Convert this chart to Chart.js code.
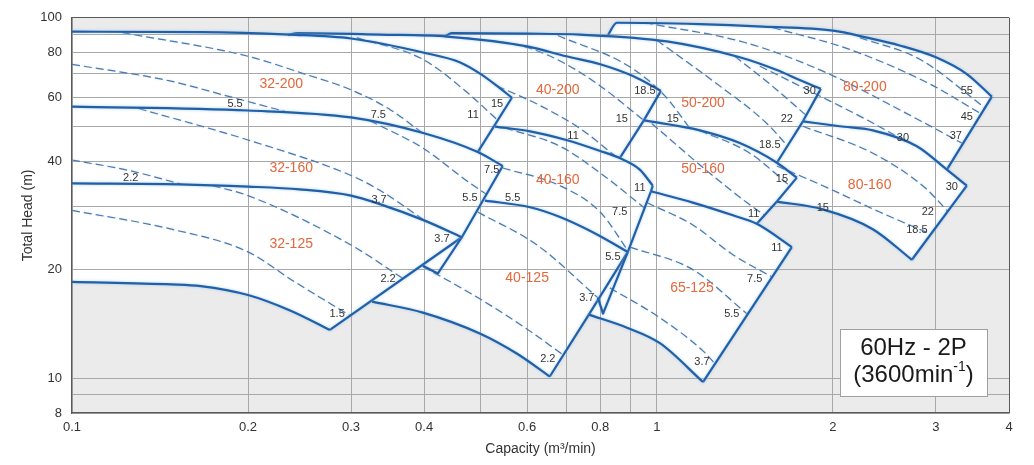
<!DOCTYPE html>
<html><head><meta charset="utf-8">
<script src="https://cdn.jsdelivr.net/npm/chart.js@4.4.1/dist/chart.umd.min.js"></script>
<style>html,body{margin:0;padding:0;background:#fff;}#c{display:block;}</style>
</head><body>
<canvas id="c" width="1034" height="465"></canvas>
<script>
// ---- axis ticks ----
const X_GRID = [0.1,0.2,0.3,0.4,0.5,0.6,0.7,0.8,0.9,1,2,3,4];
const X_LABELS = [0.1,0.2,0.3,0.4,0.6,0.8,1,2,3,4];
const Y_GRID = [8,9,10,20,30,40,50,60,70,80,90,100];
const Y_LABELS = [8,10,20,40,60,80,100];

// ---- solid curves [capacity m3/min, head m] ----
const T32_200 = [[0.1,91.5],[0.166,91.3],[0.236,89.8],[0.3,87.6],[0.4,80],[0.46,75.3],[0.5,69.8],[0.533,64.7],[0.565,60]];
const R32_200 = [[0.565,60],[0.494,42.4]];
const T32_160 = [[0.1,56.7],[0.2,55.3],[0.3,52.9],[0.4,47.8],[0.494,42.4],[0.545,38.8]];
const R32_160 = [[0.545,38.8],[0.464,24.6],[0.422,19.5],[0.398,20.5]];
const T32_125 = [[0.1,34.7],[0.153,34.5],[0.2,34.0],[0.245,33.4],[0.3,32.1],[0.336,30.4],[0.4,27.4],[0.464,24.6]];
const R32_125 = [[0.464,24.6],[0.276,13.6]];
const B32_125 = [[0.1,18.5],[0.148,18.2],[0.166,18.0],[0.2,17.0],[0.236,15.4],[0.276,13.6]];

const T40_200 = [[0.234,89.6],[0.243,90.7],[0.336,89.8],[0.438,88.7],[0.6,83.3],[0.7,78.2],[0.8,74.3],[0.91,68.9],[1.016,62.7]];
const R40_200 = [[1.016,62.7],[0.95,51.9],[0.864,40.8]];
const T40_160 = [[0.529,49.9],[0.607,48.4],[0.7,45.8],[0.8,42.7],[0.864,40.8],[0.935,37.9],[0.984,34.2]];
const R40_160 = [[0.984,34.2],[0.977,33.0],[0.892,22.4],[0.809,15.1],[0.793,16.7]];
const T40_125 = [[0.508,31.1],[0.607,29.8],[0.683,28.0],[0.777,25.4],[0.892,22.4]];
const R40_125 = [[0.892,22.4],[0.765,15.0],[0.656,10.1]];
const B40_125 = [[0.326,16.3],[0.398,15.2],[0.498,13.3],[0.576,11.7],[0.656,10.1]];

const T50_200 = [[0.434,88.7],[0.446,90.7],[0.6,90.4],[0.739,89.8],[1.04,86.0],[1.386,77.7],[1.604,71.6],[1.755,67.2],[1.907,63.5]];
const R50_200 = [[1.907,63.5],[1.777,51.6],[1.604,39.6]];
const T50_160 = [[0.95,51.9],[1.184,48.7],[1.386,44.9],[1.604,39.6],[1.735,36.0]];
const R50_160 = [[1.735,36.0],[1.604,30.9],[1.482,26.8]];
const T65_125 = [[0.977,33.0],[1.152,30.7],[1.349,28.3],[1.482,26.8],[1.701,23.1]];
const R65_125 = [[1.701,23.1],[1.199,9.75]];
const B65_125 = [[0.765,15.0],[0.889,13.8],[1.012,12.5],[1.199,9.75]];

const T80_200 = [[0.825,89.6],[0.854,96.9],[1.184,96.0],[1.518,94.5],[2.0,92.1],[2.286,88.1],[2.6,83.8],[3.0,77.7],[3.388,69.8],[3.739,60.4]];
const R80_200 = [[3.739,60.4],[3.132,37.9]];
const T80_160 = [[1.777,51.6],[2.055,50.0],[2.34,48.7],[2.783,44.0],[3.132,37.9],[3.388,34.2]];
const R80_160 = [[3.388,34.2],[2.729,21.3]];
const B80_160 = [[1.604,30.9],[1.922,29.4],[2.34,25.9],[2.729,21.3]];

// ---- motor power lines (dashed) ----
const DASH_32_200 = [
  [[0.1,74.3],[0.147,66.8],[0.186,60.4],[0.231,55.0]],
  [[0.122,91.0],[0.2,78.2],[0.25,69.8],[0.3,63.1],[0.35,55.6],[0.398,47.8]],
  [[0.307,88.1],[0.398,76.7],[0.466,63.5],[0.535,51.9]]
];
const DASH_32_160 = [
  [[0.1,40.3],[0.126,37.6],[0.154,34.5]],
  [[0.13,56.0],[0.2,45.8],[0.3,36.5],[0.336,33.2],[0.398,27.6]],
  [[0.323,51.8],[0.398,43.5],[0.473,35.3],[0.512,32.3]]
];
const DASH_32_125 = [
  [[0.1,29.2],[0.148,25.9],[0.2,22.4],[0.239,18.6],[0.299,14.9]],
  [[0.174,34.2],[0.2,32.1],[0.3,23.4],[0.368,18.9]]
];
const DASH_40_200 = [
  [[0.47,88.1],[0.6,82.8],[0.7,74.3],[0.8,64.7],[0.95,51.9]],
  [[0.533,64.7],[0.631,57.1],[0.739,49.3],[0.848,41.4]]
];
const DASH_40_160 = [
  [[0.55,49.5],[0.683,44.0],[0.8,37.1],[0.954,29.6]],
  [[0.545,38.3],[0.683,34.2],[0.8,28.9],[0.892,22.6]]
];
const DASH_40_125 = [
  [[0.494,28.9],[0.624,23.4],[0.793,16.7]],
  [[0.398,20.4],[0.498,16.6],[0.607,13.5],[0.691,11.6]]
];
const DASH_50_200 = [
  [[0.677,89.3],[0.9,73.0],[1.032,60.7],[1.139,49.3]],
  [[1.0,86.6],[1.247,66.8],[1.542,50.9],[1.668,44.3]],
  [[1.359,78.2],[1.56,65.5],[1.8,53.6]]
];
const DASH_50_160 = [
  [[0.98,50.9],[1.218,37.6],[1.425,30.7],[1.53,28.3]],
  [[1.184,48.7],[1.442,42.1],[1.687,34.2]]
];
const DASH_65_125 = [
  [[0.961,30.7],[1.152,26.6],[1.349,22.0],[1.572,19.1]],
  [[0.9,23.1],[1.152,20.0],[1.425,15.1]],
  [[0.831,17.8],[1.012,14.7],[1.199,11.9],[1.261,10.9]]
];
const DASH_80_200 = [
  [[1.579,93.9],[2.136,81.7],[2.929,65.5],[3.58,54.2]],
  [[2.223,88.1],[2.816,76.7],[3.637,56.3]],
  [[0.954,96.9],[1.414,85.4],[1.922,71.1],[2.676,54.2],[3.321,44.9]],
  [[1.5,73.4],[1.899,60.7],[2.311,51.6],[2.655,45.5]]
];
const DASH_80_160 = [
  [[1.777,50.0],[2.34,42.1],[2.871,33.8],[3.145,29.0]],
  [[1.604,38.8],[1.922,34.2],[2.404,28.9],[2.94,25.1]]
];

// ---- text labels [text, capacity, head] ----
const MODELS = [
  ['32-200',0.228,65.5],['32-160',0.237,38.3],['32-125',0.237,23.6],
  ['40-200',0.677,63.1],['40-160',0.677,35.5],['40-125',0.6,18.9],
  ['50-200',1.199,57.8],['50-160',1.199,38.1],['65-125',1.148,17.8],
  ['80-200',2.268,64.3],['80-160',2.311,34.4]
];
const KW = [
  ['5.5',0.19,57.8],['7.5',0.334,53.9],['15',0.533,57.8],['11',0.485,53.6],
  ['2.2',0.126,36.0],['3.7',0.335,31.3],['7.5',0.522,37.9],['5.5',0.479,31.7],['5.5',0.567,31.7],
  ['3.7',0.429,24.3],['2.2',0.347,18.9],['1.5',0.284,15.1],
  ['18.5',0.954,62.7],['15',0.871,52.5],['11',0.719,46.9],
  ['11',0.935,33.8],['7.5',0.864,28.9],['5.5',0.841,21.7],['3.7',0.759,16.7],['2.2',0.651,11.3],
  ['15',1.065,52.5],['30',1.825,62.7],['22',1.668,52.5],['18.5',1.56,44.3],
  ['15',1.636,35.8],['11',1.464,28.5],
  ['11',1.604,23.0],['7.5',1.47,18.9],['5.5',1.343,15.1],['3.7',1.194,11.1],
  ['55',3.388,62.7],['45',3.388,53.2],['37',3.244,46.9],['30',2.634,46.3],
  ['30',3.194,34.0],['22',2.906,28.9],['18.5',2.783,25.8],['15',1.922,29.6]
];

// ---- build datasets ----
const pts = a => a.map(([x, y]) => ({x, y}));
const last = a => a[a.length - 1];
const REGIONS = [
  {top:T32_200, right:R32_200, bottom:T32_160},
  {top:T32_160, right:R32_160, bottom:T32_125},
  {top:T32_125, right:R32_125, bottom:B32_125},
  {top:T40_200, right:R40_200, bottom:T40_160},
  {top:T40_160, right:R40_160, bottom:T40_125, left:[last(T32_160), last(R32_200)]},
  {top:T40_125, right:R40_125, bottom:B40_125},
  {top:T50_200, right:R50_200, bottom:T50_160},
  {top:T50_160, right:R50_160, bottom:T65_125, left:[last(T40_160), last(R40_200)]},
  {top:T65_125, right:R65_125, bottom:B65_125},
  {top:T80_200, right:R80_200, bottom:T80_160},
  {top:T80_160, right:R80_160, bottom:B80_160, left:[last(T50_160), last(R50_200)]}
];
const SOLID_CURVES = [T32_200,T32_160,T32_125,B32_125,T40_200,T40_160,T40_125,B40_125,
  T50_200,T50_160,T65_125,B65_125,T80_200,T80_160,B80_160];
const BOUNDARIES = [R32_200,R32_160,R32_125,R40_200,R40_160,R40_125,R50_200,R50_160,R65_125,R80_200,R80_160];
const DASHES = [].concat(DASH_32_200,DASH_32_160,DASH_32_125,DASH_40_200,DASH_40_160,DASH_40_125,
  DASH_50_200,DASH_50_160,DASH_65_125,DASH_80_200,DASH_80_160);

const LINE_BLUE = '#215fa6';
const DASH_BLUE = '#4a78aa';
const datasets = [];
REGIONS.forEach(r => datasets.push({
  kind:'fill', data: pts([...r.top, ...r.right, ...r.bottom.slice().reverse(), ...(r.left || [])]),
  showLine:true, fill:'shape', backgroundColor:'#ffffff', borderColor:'rgba(0,0,0,0)', borderWidth:0,
  pointRadius:0, tension:0, order:3
}));
DASHES.forEach(d => datasets.push({
  kind:'dash', data: pts(d), showLine:true, fill:false, borderColor:DASH_BLUE, borderWidth:1.2,
  borderDash:[8,4], pointRadius:0, cubicInterpolationMode:'monotone', order:2
}));
SOLID_CURVES.forEach(d => datasets.push({
  kind:'line', data: pts(d), showLine:true, fill:false, borderColor:LINE_BLUE, borderWidth:2.2,
  pointRadius:0, cubicInterpolationMode:'monotone', borderJoinStyle:'round', order:1
}));
BOUNDARIES.forEach(d => datasets.push({
  kind:'line', data: pts(d), showLine:true, fill:false, borderColor:LINE_BLUE, borderWidth:2.2,
  pointRadius:0, tension:0, borderJoinStyle:'round', order:1
}));
const NFILL = REGIONS.length;

// ---- plugins ----
let fillCount = 0;
const layering = {
  id:'layering',
  beforeDatasetsDraw(){ fillCount = 0; },
  beforeDatasetDraw(chart, args){
    const ds = chart.data.datasets[args.index];
    if (ds.kind !== 'fill') {
      const c = chart.ctx; c.save();
      c.shadowColor = ds.kind === 'line' ? 'rgba(140,190,235,0.75)' : 'rgba(160,200,235,0.5)';
      c.shadowBlur = ds.kind === 'line' ? 3 : 2;
    }
  },
  afterDatasetDraw(chart, args){
    const ds = chart.data.datasets[args.index];
    if (ds.kind !== 'fill') { chart.ctx.restore(); return; }
    fillCount++;
    if (fillCount === NFILL) {
      chart.scales.x.drawGrid(chart.chartArea);
      chart.scales.y.drawGrid(chart.chartArea);
      chart.scales.x.drawBorder();
      chart.scales.y.drawBorder();
    }
  }
};
const bgPlugin = {
  id:'bg',
  beforeDraw(chart){
    const {ctx, chartArea:a} = chart;
    ctx.save(); ctx.fillStyle = '#ebebeb';
    ctx.fillRect(a.left, a.top, a.right - a.left, a.bottom - a.top); ctx.restore();
  }
};
const FONT = "'Liberation Sans', Arial, Helvetica, sans-serif";
const textPlugin = {
  id:'texts',
  afterDatasetsDraw(chart){
    const {ctx, scales:{x, y}} = chart;
    ctx.save();
    ctx.textAlign = 'center'; ctx.textBaseline = 'middle';
    ctx.font = '14px ' + FONT; ctx.fillStyle = '#e5673b';
    MODELS.forEach(([t, vx, vy]) => ctx.fillText(t, x.getPixelForValue(vx), y.getPixelForValue(vy)));
    ctx.font = '11px ' + FONT; ctx.fillStyle = '#333';
    KW.forEach(([t, vx, vy]) => ctx.fillText(t, x.getPixelForValue(vx), y.getPixelForValue(vy)));
    // info box
    const bx1 = Math.round(x.getPixelForValue(2.055)), bx2 = Math.round(x.getPixelForValue(3.665));
    const by1 = Math.round(y.getPixelForValue(13.7)), by2 = Math.round(y.getPixelForValue(8.93));
    ctx.fillStyle = '#fff'; ctx.fillRect(bx1, by1, bx2 - bx1, by2 - by1);
    ctx.strokeStyle = '#a0a0a0'; ctx.lineWidth = 1; ctx.strokeRect(bx1 + 0.5, by1 + 0.5, bx2 - bx1, by2 - by1);
    const cx = (bx1 + bx2) / 2;
    ctx.fillStyle = '#1a1a1a';
    ctx.font = '24px ' + FONT;
    ctx.fillText('60Hz - 2P', cx, y.getPixelForValue(12.08));
    const ty = y.getPixelForValue(10.19);
    const a = '(3600min', b = '-1', c = ')';
    ctx.font = '24px ' + FONT; const wa = ctx.measureText(a).width, wc = ctx.measureText(c).width;
    ctx.font = '14px ' + FONT; const wb = ctx.measureText(b).width;
    let sx = cx - (wa + wb + wc) / 2;
    ctx.textAlign = 'left';
    ctx.font = '24px ' + FONT; ctx.fillText(a, sx, ty);
    ctx.font = '14px ' + FONT; ctx.fillText(b, sx + wa, ty - 8);
    ctx.font = '24px ' + FONT; ctx.fillText(c, sx + wa + wb, ty);
    ctx.restore();
  }
};

Chart.defaults.font.family = FONT;
const gridColor = edge => ctx => (ctx.tick && ctx.tick.value === edge) ? '#5a5a5a' : '#a8a8a8';

new Chart(document.getElementById('c'), {
  type:'scatter',
  data:{datasets},
  options:{
    responsive:false, animation:false, devicePixelRatio:1, events:[],
    layout:{padding:{top:13, right:25, left:0, bottom:0}},
    plugins:{legend:{display:false}, tooltip:{enabled:false}},
    scales:{
      x:{
        type:'logarithmic', min:0.1, max:4,
        afterBuildTicks: s => { s.ticks = X_GRID.map(v => ({value:v})); },
        afterFit: s => { s.height = 52; },
        ticks:{autoSkip:false, maxRotation:0, padding:7, color:'#333', font:{size:13},
          callback: v => X_LABELS.includes(v) ? String(v) : ''},
        grid:{color:gridColor(4), lineWidth:1, drawTicks:false},
        border:{display:true, color:'#5a5a5a', width:1.2},
        title:{display:true, text:'Capacity (m³/min)', color:'#333', font:{size:14}, padding:{top:0, bottom:7}}
      },
      y:{
        type:'logarithmic', min:8, max:100,
        afterBuildTicks: s => { s.ticks = Y_GRID.map(v => ({value:v})); },
        afterFit: s => { s.width = 72; },
        ticks:{autoSkip:false, padding:10, color:'#333', font:{size:13},
          callback: v => Y_LABELS.includes(v) ? String(v) : ''},
        grid:{color:gridColor(100), lineWidth:1, drawTicks:false},
        border:{display:true, color:'#5a5a5a', width:1.2},
        title:{display:true, text:'Total Head (m)', color:'#333', font:{size:14}, padding:{top:20, bottom:0}}
      }
    }
  },
  plugins:[bgPlugin, layering, textPlugin]
});
</script>
</body></html>
